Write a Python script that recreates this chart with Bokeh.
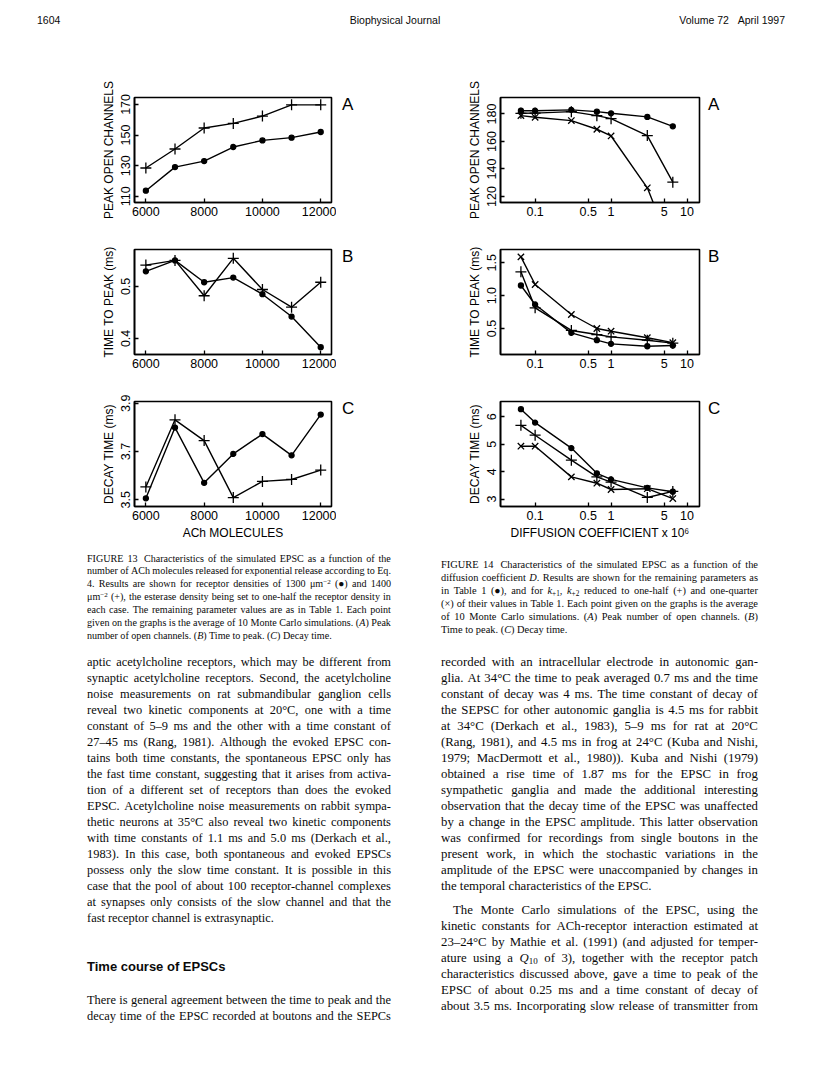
from bokeh.plotting import figure
from bokeh.layouts import column, row
from bokeh.models import Div, FixedTicker, Range1d
from bokeh.embed import file_html
from bokeh.resources import INLINE

# ---------------- data ----------------
ach = [6000, 7000, 8000, 9000, 10000, 11000, 12000]
peak13_dot = [113.7, 129.1, 133.0, 142.2, 146.5, 148.3, 152.0]
peak13_plus = [128.5, 140.9, 154.6, 157.6, 162.4, 169.7, 169.7]
ttp13_dot = [0.529, 0.550, 0.508, 0.517, 0.485, 0.442, 0.383]
ttp13_plus = [0.541, 0.550, 0.482, 0.554, 0.494, 0.460, 0.508]
decay13_dot = [3.506, 3.799, 3.570, 3.690, 3.772, 3.684, 3.853]
decay13_plus = [3.553, 3.831, 3.745, 3.509, 3.576, 3.584, 3.623]

diff = [0.065, 0.1, 0.3, 0.65, 1, 3, 6.5]
peak14_dot = [182.4, 182.4, 183.0, 181.7, 180.5, 177.9, 171.0]
peak14_plus = [180.5, 180.6, 181.7, 178.8, 176.6, 164.3, 130.4]
peak14_x = [178.8, 177.6, 175.2, 168.9, 164.0, 126.3, 80.0]
ttp14_dot = [1.155, 0.866, 0.434, 0.322, 0.266, 0.230, 0.240]
ttp14_plus = [1.363, 0.815, 0.470, 0.408, 0.373, 0.322, 0.277]
ttp14_x = [1.591, 1.170, 0.713, 0.500, 0.459, 0.360, 0.284]
decay14_dot = [6.28, 5.79, 4.86, 3.94, 3.72, 3.41, 3.27]
decay14_plus = [5.69, 5.33, 4.42, 3.81, 3.62, 3.06, 3.28]
decay14_x = [4.93, 4.93, 3.81, 3.58, 3.35, 3.38, 3.02]

ach_ticks = [6000, 8000, 10000, 12000]
diff_ticks = [0.1, 0.5, 1, 5, 10]
diff_tick_labels = ["0.1", "0.5", "1", "5", "10"]

header_left = "1604"
header_mid = "Biophysical Journal"
header_right = "Volume 72&nbsp;&nbsp;&nbsp;April 1997"

cap13 = [
    "FIGURE 13&nbsp; Characteristics of the simulated EPSC as a function of the",
    "number of ACh molecules released for exponential release according to Eq.",
    "4. Results are shown for receptor densities of 1300 &mu;m<sup>&minus;2</sup> (&#9679;) and 1400",
    "&mu;m<sup>&minus;2</sup> (+), the esterase density being set to one-half the receptor density in",
    "each case. The remaining parameter values are as in Table 1. Each point",
    "given on the graphs is the average of 10 Monte Carlo simulations. (<i>A</i>) Peak",
    "number of open channels. (<i>B</i>) Time to peak. (<i>C</i>) Decay time.",
]
cap14 = [
    "FIGURE 14&nbsp; Characteristics of the simulated EPSC as a function of the",
    "diffusion coefficient <i>D</i>. Results are shown for the remaining parameters as",
    "in Table 1 (&#9679;), and for <i>k</i><sub>+1</sub>, <i>k</i><sub>+2</sub> reduced to one-half (+) and one-quarter",
    "(&times;) of their values in Table 1. Each point given on the graphs is the average",
    "of 10 Monte Carlo simulations. (<i>A</i>) Peak number of open channels. (<i>B</i>)",
    "Time to peak. (<i>C</i>) Decay time.",
]
body_left = [
    "aptic acetylcholine receptors, which may be different from",
    "synaptic acetylcholine receptors. Second, the acetylcholine",
    "noise measurements on rat submandibular ganglion cells",
    "reveal two kinetic components at 20&deg;C, one with a time",
    "constant of 5&ndash;9 ms and the other with a time constant of",
    "27&ndash;45 ms (Rang, 1981). Although the evoked EPSC con-",
    "tains both time constants, the spontaneous EPSC only has",
    "the fast time constant, suggesting that it arises from activa-",
    "tion of a different set of receptors than does the evoked",
    "EPSC. Acetylcholine noise measurements on rabbit sympa-",
    "thetic neurons at 35&deg;C also reveal two kinetic components",
    "with time constants of 1.1 ms and 5.0 ms (Derkach et al.,",
    "1983). In this case, both spontaneous and evoked EPSCs",
    "possess only the slow time constant. It is possible in this",
    "case that the pool of about 100 receptor-channel complexes",
    "at synapses only consists of the slow channel and that the",
    "fast receptor channel is extrasynaptic.",
]
heading = "Time course of EPSCs"
body_left2 = [
    "There is general agreement between the time to peak and the",
    "decay time of the EPSC recorded at boutons and the SEPCs",
]
body_right = [
    "recorded with an intracellular electrode in autonomic gan-",
    "glia. At 34&deg;C the time to peak averaged 0.7 ms and the time",
    "constant of decay was 4 ms. The time constant of decay of",
    "the SEPSC for other autonomic ganglia is 4.5 ms for rabbit",
    "at 34&deg;C (Derkach et al., 1983), 5&ndash;9 ms for rat at 20&deg;C",
    "(Rang, 1981), and 4.5 ms in frog at 24&deg;C (Kuba and Nishi,",
    "1979; MacDermott et al., 1980)). Kuba and Nishi (1979)",
    "obtained a rise time of 1.87 ms for the EPSC in frog",
    "sympathetic ganglia and made the additional interesting",
    "observation that the decay time of the EPSC was unaffected",
    "by a change in the EPSC amplitude. This latter observation",
    "was confirmed for recordings from single boutons in the",
    "present work, in which the stochastic variations in the",
    "amplitude of the EPSC were unaccompanied by changes in",
    "the temporal characteristics of the EPSC.",
]
body_right2 = [
    "The Monte Carlo simulations of the EPSC, using the",
    "kinetic constants for ACh-receptor interaction estimated at",
    "23&ndash;24&deg;C by Mathie et al. (1991) (and adjusted for temper-",
    "ature using a <i>Q</i><sub>10</sub> of 3), together with the receptor patch",
    "characteristics discussed above, gave a time to peak of the",
    "EPSC of about 0.25 ms and a time constant of decay of",
    "about 3.5 ms. Incorporating slow release of transmitter from",
]

# ---------------- styling ----------------
SANS = "Liberation Sans"
SERIF = "Liberation Serif"
FH = 105
BT = 24          # top border of each panel
BB = 23          # bottom border (A, B)
BBC = 41         # bottom border (C)
BR = 5           # right border
LETTER_W = 35


def letter_div(letter, height, dx):
    html = (f"<div style=\"position:relative;width:{LETTER_W}px;height:{height}px;\">"
            f"<div style=\"position:absolute;left:{dx}px;top:{BT - 1}px;font-family:'{SANS}';"
            f"font-size:17px;line-height:17px;color:#000;\">{letter}</div></div>")
    return Div(text=html, width=LETTER_W, height=height, margin=(0, 0, 0, 0))


def panel(xr, yr, yticks, ytitle, letter, xlog=False, xtitle=None,
          left=134, fw=197, bottom=BB, dx=6):
    p = figure(x_range=Range1d(*xr), y_range=Range1d(*yr),
               x_axis_type="log" if xlog else "linear",
               frame_width=fw, frame_height=FH,
               min_border_left=left, min_border_right=BR,
               min_border_top=BT, min_border_bottom=bottom,
               toolbar_location=None, output_backend="svg",
               background_fill_color="white", border_fill_color="white",
               outline_line_color="black", outline_line_width=1.6,
               margin=(0, 0, 0, 0))
    p.grid.visible = False
    if xlog:
        p.xaxis.ticker = FixedTicker(ticks=diff_ticks)
        p.xaxis.major_label_overrides = {t: s for t, s in zip(diff_ticks, diff_tick_labels)}
    else:
        p.xaxis.ticker = FixedTicker(ticks=ach_ticks)
    p.yaxis.ticker = FixedTicker(ticks=yticks)
    p.axis.minor_tick_line_color = None
    p.axis.major_tick_in = 4
    p.axis.major_tick_out = 0
    p.axis.major_tick_line_width = 1.3
    p.axis.axis_line_width = 1.6
    p.axis.major_label_text_font = SANS
    p.axis.major_label_text_font_size = "12.5px"
    p.axis.major_label_text_color = "black"
    p.axis.major_label_standoff = 4
    p.yaxis.major_label_orientation = "vertical"
    p.yaxis.axis_label = ytitle
    p.axis.axis_label_text_font = SANS
    p.axis.axis_label_text_font_size = "12px"
    p.axis.axis_label_text_font_style = "normal"
    p.axis.axis_label_text_color = "black"
    p.axis.axis_label_standoff = 3
    if xtitle:
        p.xaxis.axis_label = xtitle
    h = BT + FH + bottom
    return p, row(p, letter_div(letter, h, dx), spacing=0)


def series(p, x, y, marker, size):
    p.line(x, y, line_color="black", line_width=1.4)
    p.scatter(x, y, marker=marker, size=size, line_color="black",
              fill_color="black", line_width=1.3)


xr13 = (5610, 12370)
xr14 = (0.035, 14.6)

a13, ra13 = panel(xr13, (106, 174.5), [110, 130, 150, 170], "PEAK OPEN CHANNELS", "A")
series(a13, ach, peak13_dot, "circle", 5)
series(a13, ach, peak13_plus, "cross", 11)

b13, rb13 = panel(xr13, (0.369, 0.571), [0.4, 0.5], "TIME TO PEAK (ms)", "B")
series(b13, ach, ttp13_dot, "circle", 5)
series(b13, ach, ttp13_plus, "cross", 11)

c13, rc13 = panel(xr13, (3.472, 3.907), [3.5, 3.7, 3.9], "DECAY TIME (ms)", "C",
                  xtitle="ACh MOLECULES", bottom=BBC)
series(c13, ach, decay13_dot, "circle", 5)
series(c13, ach, decay13_plus, "cross", 11)

L14 = 500 - (134 + 197 + BR + LETTER_W)
a14, ra14 = panel(xr14, (115.6, 192), [120, 140, 160, 180], "PEAK OPEN CHANNELS", "A",
                  xlog=True, left=L14, fw=199, dx=4)
series(a14, diff, peak14_dot, "circle", 5)
series(a14, diff, peak14_plus, "cross", 11)
series(a14, diff, peak14_x, "x", 9)

b14, rb14 = panel(xr14, (0.104, 1.703), [0.5, 1.0, 1.5], "TIME TO PEAK (ms)", "B",
                  xlog=True, left=L14, fw=199, dx=4)
b14.yaxis.major_label_overrides = {0.5: "0.5", 1: "1.0", 1.5: "1.5"}
series(b14, diff, ttp14_dot, "circle", 5)
series(b14, diff, ttp14_plus, "cross", 11)
series(b14, diff, ttp14_x, "x", 9)

c14, rc14 = panel(xr14, (2.73, 6.56), [3, 4, 5, 6], "DECAY TIME (ms)", "C",
                  xlog=True, left=L14, fw=199, xtitle="DIFFUSION COEFFICIENT x 10\u2076",
                  bottom=BBC, dx=4)
series(c14, diff, decay14_dot, "circle", 5)
series(c14, diff, decay14_plus, "cross", 11)
series(c14, diff, decay14_x, "x", 9)

# ---------------- text blocks ----------------
SUPSUB = "<style>sup,sub{font-size:70%;line-height:0;} sup{vertical-align:0.45em;} sub{vertical-align:-0.25em;}</style>"
INK = "#0a0a0a"


def text_line(html, x, yc, w, size, lh, family, y0, justify=True, weight="normal", indent=0):
    top = yc - lh / 2 - y0
    left = x + indent
    width = w - indent
    base = (f"position:absolute;left:{left}px;top:{top:.1f}px;width:{width}px;height:{lh}px;"
            f"line-height:{lh}px;font-family:'{family}';font-size:{size}px;font-weight:{weight};"
            f"color:{INK};white-space:nowrap;")
    if justify:
        words = html.split(" ")
        spans = "".join(f"<span>{wd}</span>" for wd in words)
        return f"<div style=\"{base}display:flex;justify-content:space-between;\">{spans}</div>"
    return f"<div style=\"{base}\">{html}</div>"


def block(lines, x, yc0, w, size, lh, family, y0, last_plain=True, indent_first=0):
    out = []
    for i, ln in enumerate(lines):
        just = not (last_plain and i == len(lines) - 1)
        out.append(text_line(ln, x, yc0 + i * lh, w, size, lh, family, y0, justify=just,
                             indent=indent_first if i == 0 else 0))
    return "".join(out)


HEAD_H = 97 - BT
head_html = (f"<div style=\"position:relative;width:800px;height:{HEAD_H}px;\">"
             + text_line(header_left, 37, 20, 60, 10.5, 14, SANS, 0, justify=False)
             + f"<div style=\"position:absolute;left:0px;top:13px;width:790px;text-align:center;"
               f"font-family:'{SANS}';font-size:10.5px;line-height:14px;color:{INK};\">{header_mid}</div>"
             + f"<div style=\"position:absolute;left:0px;top:13px;width:785px;text-align:right;"
               f"font-family:'{SANS}';font-size:10.5px;line-height:14px;color:{INK};\">{header_right}</div>"
             + "</div>")
header = Div(text=head_html, width=800, height=HEAD_H, margin=(0, 0, 0, 0))

TXT_Y0 = HEAD_H + 2 * (BT + FH + BB) + (BT + FH + BBC)
TXT_H = 1066 - TXT_Y0
LX, LW = 87, 304
RX, RW = 441, 317
parts = [SUPSUB, f"<div style=\"position:relative;width:800px;height:{TXT_H}px;\">"]
parts.append(block(cap13, LX, 559, LW, 10.1, 12.83, SERIF, TXT_Y0))
parts.append(block(cap14, RX, 564, RW, 10.4, 13.0, SERIF, TXT_Y0))
parts.append(block(body_left, LX, 662, LW, 12.4, 16, SERIF, TXT_Y0))
parts.append(text_line(heading, LX, 967, LW, 13, 16, SANS, TXT_Y0, justify=False, weight="bold"))
parts.append(block(body_left2, LX, 1000, LW, 12.4, 16, SERIF, TXT_Y0, last_plain=False))
parts.append(block(body_right, RX, 662, RW, 12.8, 16, SERIF, TXT_Y0))
parts.append(block(body_right2, RX, 910, RW, 12.8, 16, SERIF, TXT_Y0, last_plain=False, indent_first=12))
parts.append("</div>")
text_div = Div(text="".join(parts), width=800, height=TXT_H, margin=(0, 0, 0, 0))

col13 = column(ra13, rb13, rc13, spacing=0)
col14 = column(ra14, rb14, rc14, spacing=0)
layout = column(header, row(col13, col14, spacing=0), text_div, spacing=0)

open("out.html", "w").write(file_html(layout, INLINE))
